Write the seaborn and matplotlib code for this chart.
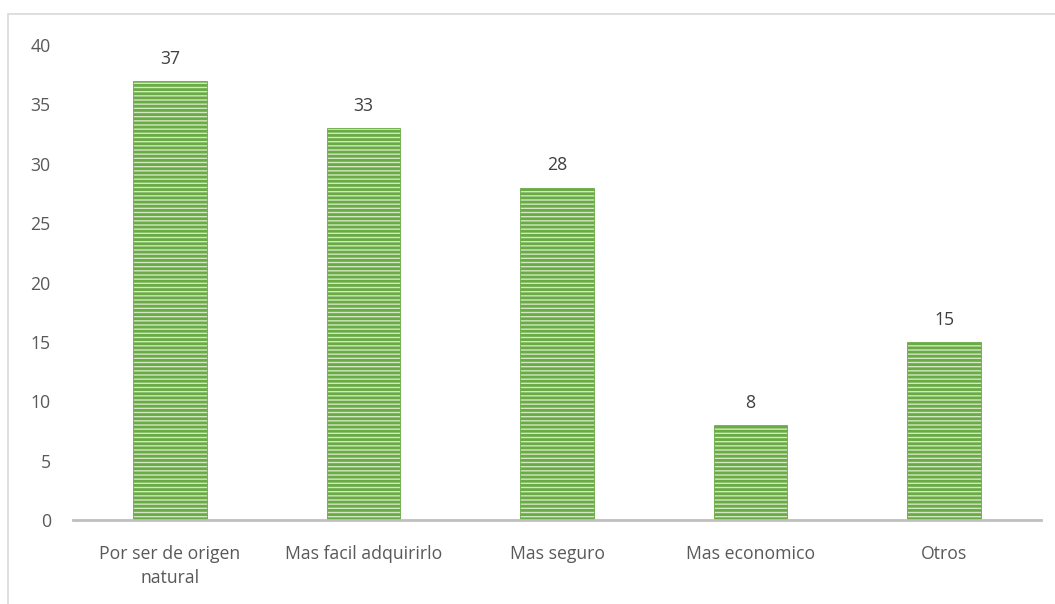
import pandas as pd
import matplotlib.pyplot as plt
import matplotlib.patches as mpatches
import seaborn as sns

sns.set_style('white')
plt.rcParams['font.family'] = ['Open Sans', 'DejaVu Sans']
plt.rcParams['hatch.linewidth'] = 2.0
plt.rcParams['hatch.color'] = '#70AD47'

# ── Data ──────────────────────────────────────────────────
categories = ['Por ser de origen\nnatural', 'Mas facil adquirirlo', 'Mas seguro',
              'Mas economico', 'Otros']
values = [37, 33, 28, 8, 15]

df = pd.DataFrame({'motivo': categories, 'n': values})

GREEN = '#6AAB45'
LIGHT = '#D2E8C2'
TEXT = '#595959'
FS = 12.7

fig = plt.figure(figsize=(10.55, 6.04), dpi=100)
ax = fig.add_axes([73 / 1055, 1 - 520 / 604, (1041 - 73) / 1055, 475 / 604])

sns.barplot(data=df, x='motivo', y='n', ax=ax, color=LIGHT, saturation=1,
            width=0.38, hatch='----', edgecolor=GREEN, linewidth=0.6)

ax.set_ylim(0, 40)
ax.set_yticks(range(0, 41, 5))
ax.set_xlabel('')
ax.set_ylabel('')
for s in ['top', 'right', 'left']:
    ax.spines[s].set_visible(False)
ax.spines['bottom'].set_color('#BFBFBF')
ax.spines['bottom'].set_linewidth(2)
ax.tick_params(axis='both', length=0, labelsize=FS, colors=TEXT)
ax.tick_params(axis='y', pad=16)
ax.tick_params(axis='x', pad=18)
for lbl in ax.get_xticklabels():
    lbl.set_linespacing(1.45)

# value labels
for i, v in enumerate(values):
    ax.text(i, v + 1.1, str(v), ha='center', va='bottom', fontsize=FS, color='#404040')

# outer chart border
fig.patches.append(mpatches.Rectangle((8 / 1055, -0.01), 1.02, 1 - 14 / 604 + 0.01,
                                      transform=fig.transFigure, fill=False,
                                      edgecolor='#D9D9D9', linewidth=1.2))

plt.savefig('out.png', dpi=100)
plt.close()
